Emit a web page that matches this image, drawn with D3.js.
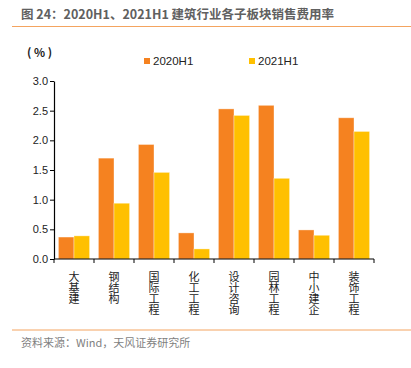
<!DOCTYPE html>
<html>
<head>
<meta charset="utf-8">
<script src="https://cdn.jsdelivr.net/npm/d3@7"></script>
<style>
  body { margin: 0; background: #fff; }
  svg { display: block; font-family: "Noto Sans CJK SC", "Noto Sans", sans-serif; }
</style>
</head>
<body>
<div id="chart"></div>
<script>
// Chart data
const categories = ["大基建", "钢结构", "国际工程", "化工工程", "设计咨询", "园林工程", "中小建企", "装饰工程"];
const series = ["2020H1", "2021H1"];
const values2020 = [0.37, 1.70, 1.93, 0.44, 2.53, 2.59, 0.49, 2.38];
const values2021 = [0.39, 0.94, 1.46, 0.17, 2.42, 1.36, 0.40, 2.15];
const yTicks = [0, 0.5, 1.0, 1.5, 2.0, 2.5, 3.0];
const colors = ["#F58220", "#FFC000"];

const width = 411, height = 368;
const margin = { left: 54, right: 37, top: 81, bottom: 109 };

const svg = d3.select("#chart").append("svg")
    .attr("width", width).attr("height", height);

// --- HEADER / FOOTER ---
svg.append("text").attr("x", 21).attr("y", 19)
    .attr("font-size", 12.5).attr("font-weight", "bold").attr("fill", "#606060")
    .text("图 24：2020H1、2021H1 建筑行业各子板块销售费用率");
svg.append("line").attr("x1", 12).attr("x2", 411).attr("y1", 26.5).attr("y2", 26.5)
    .attr("stroke", "#F4A460").attr("stroke-width", 1);
svg.append("line").attr("x1", 12).attr("x2", 411).attr("y1", 330).attr("y2", 330)
    .attr("stroke", "#F4A460").attr("stroke-width", 1);
svg.append("text").attr("x", 21).attr("y", 347)
    .attr("font-size", 11).attr("fill", "#7f7f7f")
    .text("资料来源：Wind，天风证券研究所");

// --- SCALES ---
const x = d3.scaleBand().domain(categories)
    .range([margin.left, width - margin.right]).paddingInner(0.22).paddingOuter(0.11);
const xSub = d3.scaleBand().domain(series).range([0, x.bandwidth()]);
const y = d3.scaleLinear().domain([0, 3]).range([height - margin.bottom, margin.top]);

// --- BARS ---
const groups = svg.append("g").selectAll("g")
    .data(categories.map((c, i) => ({ c, v: [values2020[i], values2021[i]] })))
    .join("g").attr("transform", d => `translate(${x(d.c)},0)`);

groups.selectAll("rect")
    .data(d => d.v.map((v, j) => ({ s: series[j], v, j })))
    .join("rect")
    .attr("x", d => xSub(d.s))
    .attr("width", xSub.bandwidth())
    .attr("y", d => y(d.v))
    .attr("height", d => y(0) - y(d.v))
    .attr("fill", d => colors[d.j])
    .attr("stroke", "rgba(255,255,255,0.45)").attr("stroke-width", 0.8);

// --- AXES ---
const yAxis = svg.append("g").attr("transform", `translate(${margin.left},0)`)
    .call(d3.axisLeft(y).tickValues(yTicks).tickFormat(d3.format(".1f")).tickSize(4).tickSizeOuter(0));
yAxis.select(".domain").attr("stroke", "#000").attr("stroke-width", 1.2);
yAxis.selectAll("text").attr("font-size", 11).attr("fill", "#222")
    .attr("font-family", "Liberation Sans, Arial, sans-serif").attr("x", -6);

const xAxis = svg.append("g").attr("transform", `translate(0,${y(0)})`);
xAxis.append("line").attr("x1", margin.left).attr("x2", width - margin.right)
    .attr("stroke", "#000").attr("stroke-width", 1.2);
const step = (width - margin.right - margin.left) / categories.length;
xAxis.selectAll("line.tick").data(d3.range(categories.length + 1)).join("line")
    .attr("class", "tick")
    .attr("x1", i => margin.left + i * step).attr("x2", i => margin.left + i * step)
    .attr("y1", 0).attr("y2", 4).attr("stroke", "#000").attr("stroke-width", 1);

// vertical category labels (one text each, written top to bottom)
xAxis.selectAll("text.cat").data(categories).join("text")
    .attr("class", "cat")
    .attr("x", d => x(d) + x.bandwidth() / 2).attr("y", 12)
    .attr("font-size", 11).attr("fill", "#222")
    .style("writing-mode", "vertical-rl")
    .text(d => d);

// unit label
svg.append("text").attr("x", 27).attr("y", 57).attr("font-size", 11.5).attr("fill", "#222")
    .attr("font-weight", "bold")
    .text("( % )");

// --- LEGEND ---
const legendX = [144, 249];
const legend = svg.append("g").selectAll("g").data(series).join("g")
    .attr("transform", (d, i) => `translate(${legendX[i]},58)`);
legend.append("rect").attr("width", 6).attr("height", 6)
    .attr("fill", (d, i) => colors[i]);
legend.append("text").attr("x", 9).attr("y", 7).attr("font-size", 11.5).attr("fill", "#222")
    .attr("font-family", "Liberation Sans, Arial, sans-serif")
    .text(d => d);
</script>
</body>
</html>
